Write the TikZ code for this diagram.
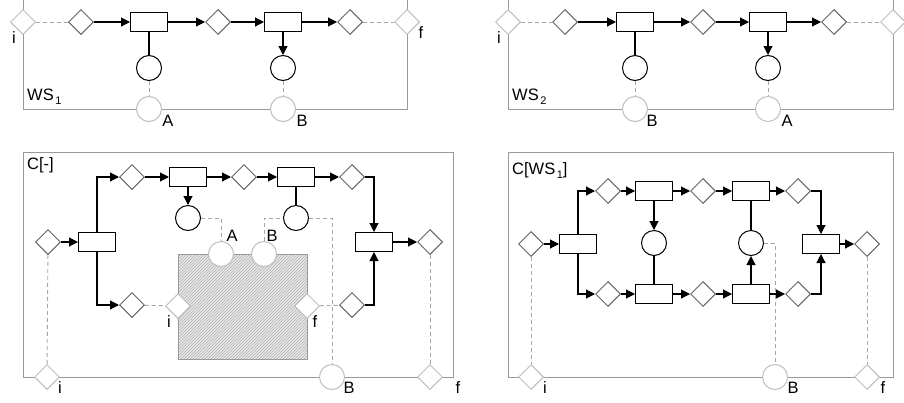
\documentclass[tikz,border=0pt]{standalone}
\usepackage{fontspec}
\setmainfont{Liberation Sans}
\usetikzlibrary{arrows.meta,shapes.geometric,patterns}
\tikzset{
	cnd/.style={diamond,draw=black!60,fill=white,line width=1pt,minimum size=25pt,inner sep=0pt},
	icnd/.style={cnd,draw=black!25},
	tr/.style={rectangle,draw,fill=white,line width=1pt,minimum width=37pt,minimum height=19pt,inner sep=0pt},
	msg/.style={circle,draw,fill=white,line width=1pt,minimum size=25pt,inner sep=0pt},
	imsg/.style={msg,draw=black!25},
	arr/.style={-{Triangle[length=9pt,width=9pt]},line width=1.1pt},
	lnk/.style={line width=1.1pt},
	dsh/.style={draw=black!35,dash pattern=on 4pt off 3pt,line width=0.9pt},
	frm/.style={draw=black!40,line width=1pt},
	lbl/.style={inner sep=0pt,font=\fontsize{16.5}{18}\selectfont},
}
\newcommand{\sub}[1]{\kern1.5pt\raisebox{-4pt}{\fontsize{11}{11}\selectfont #1}}
\begin{document}
\begin{tikzpicture}[x=1pt,y=-1pt]
	\useasboundingbox (0,0) rectangle (904,402);
	\clip (0,0) rectangle (904,402);
	% frames
	\draw[frm] (23,-5) rectangle (407,109);
	\draw[frm] (508,-5) rectangle (893,109);
	\draw[frm] (23,152) rectangle (453,377);
	\draw[frm] (508,152) rectangle (893,377);
	% hatched hole of the context
	\fill[black!9] (178,254) rectangle (307,359);
	\draw[frm,pattern=north east lines,pattern color=black!30] (178,254) rectangle (307,359);
	
	% WS1
	\node[lbl,anchor=base west] (ws1) at (27,100) {WS\sub{1}};
	\node[icnd] (i1) at (23,22) {};
	\node[cnd] (p11) at (81,22) {};
	\node[tr] (t11) at (149,22) {};
	\node[cnd] (p12) at (218,22) {};
	\node[tr] (t12) at (283,22) {};
	\node[cnd] (p13) at (350,22) {};
	\node[icnd] (f1) at (407,22) {};
	\node[msg] (m11) at (149,68) {};
	\node[msg] (m12) at (283,68) {};
	\node[imsg] (a1) at (149,109) {};
	\node[imsg] (b1) at (283,109) {};
	\node[lbl] (li1) at (14,38) {i};
	\node[lbl] (lf1) at (421,33) {f};
	\node[lbl] (la1) at (168,121) {A};
	\node[lbl] (lb1) at (302,121) {B};
	
	% WS2
	\node[lbl,anchor=base west] (ws2) at (512,100) {WS\sub{2}};
	\node[icnd] (i2) at (508,22) {};
	\node[cnd] (p21) at (565,22) {};
	\node[tr] (t21) at (635,22) {};
	\node[cnd] (p22) at (703,22) {};
	\node[tr] (t22) at (768,22) {};
	\node[cnd] (p23) at (834,22) {};
	\node[icnd] (f2) at (893,22) {};
	\node[msg] (m21) at (635,68) {};
	\node[msg] (m22) at (768,68) {};
	\node[imsg] (b2) at (635,109) {};
	\node[imsg] (a2) at (768,109) {};
	\node[lbl] (li2) at (499,38) {i};
	\node[lbl] (lb2) at (652,121) {B};
	\node[lbl] (la2) at (787,121) {A};
	
	% C[-]
	\node[lbl,anchor=base west] (c0) at (27,169) {C[-]};
	\node[cnd] (p0) at (48,242) {};
	\node[tr] (t0) at (97,242) {};
	\node[cnd] (pu1) at (132,177) {};
	\node[tr] (tu1) at (188,177) {};
	\node[cnd] (pu2) at (244,177) {};
	\node[tr] (tu2) at (296,177) {};
	\node[cnd] (pu3) at (352,177) {};
	\node[cnd] (pl1) at (132,305) {};
	\node[cnd] (pl2) at (352,305) {};
	\node[tr] (tj) at (374,242) {};
	\node[cnd] (pf) at (430,242) {};
	\node[msg] (mu1) at (188,218) {};
	\node[msg] (mu2) at (296,218) {};
	\node[imsg] (ah) at (221,254) {};
	\node[imsg] (bh) at (264,254) {};
	\node[icnd] (ih) at (178,306) {};
	\node[icnd] (fh) at (307,306) {};
	\node[icnd] (io) at (47,377) {};
	\node[imsg] (bo) at (332,377) {};
	\node[icnd] (fo) at (430,377) {};
	\node[lbl] (lah) at (232,236) {A};
	\node[lbl] (lbh) at (272,236) {B};
	\node[lbl] (lih) at (169,322) {i};
	\node[lbl] (lfh) at (315,322) {f};
	\node[lbl] (lio) at (60,388) {i};
	\node[lbl] (lbo) at (349,388) {B};
	\node[lbl] (lfo) at (458,388) {f};
	
	% C[WS1]
	\node[lbl,anchor=base west] (c1) at (512,174) {C[WS\sub{1}]};
	\node[cnd] (q0) at (531,244) {};
	\node[tr] (s0) at (578,244) {};
	\foreach \n/\x in {1/608,2/703,3/798}{
		\node[cnd] (qu\n) at (\x,191) {};
		\node[cnd] (ql\n) at (\x,294) {};
	}
	\foreach \n/\x in {1/654,2/751}{
		\node[tr] (su\n) at (\x,191) {};
		\node[tr] (sl\n) at (\x,294) {};
		\node[msg] (n\n) at (\x,243) {};
	}
	\node[tr] (sj) at (821,244) {};
	\node[cnd] (qf) at (867,244) {};
	\node[icnd] (io2) at (531,377) {};
	\node[imsg] (bo2) at (775,377) {};
	\node[icnd] (fo2) at (867,377) {};
	\node[lbl] (lio2) at (545,388) {i};
	\node[lbl] (lbo2) at (793,388) {B};
	\node[lbl] (lfo2) at (883,388) {f};
	
	% flow arcs
	\foreach \a/\b in {p11/t11,t11/p12,p12/t12,t12/p13,t12/m12,
		p21/t21,t21/p22,p22/t22,t22/p23,t22/m22,
		p0/t0,pu1/tu1,tu1/pu2,pu2/tu2,tu2/pu3,tu1/mu1,tj/pf,
		q0/s0,qu1/su1,su1/qu2,qu2/su2,su2/qu3,ql1/sl1,sl1/ql2,ql2/sl2,sl2/ql3,
		su1/n1,sl2/n2,sj/qf}
		\draw[arr] (\a) -- (\b);
	\foreach \a/\b in {t11/m11,t21/m21,tu2/mu2,n1/sl1,su2/n2}
		\draw[lnk] (\a) -- (\b);
	\draw[arr] (t0) |- (pu1);
	\draw[arr] (t0) |- (pl1);
	\draw[arr] (pu3) -| (tj);
	\draw[arr] (pl2) -| (tj);
	\draw[arr] (s0) |- (qu1);
	\draw[arr] (s0) |- (ql1);
	\draw[arr] (qu3) -| (sj);
	\draw[arr] (ql3) -| (sj);
	
	% interface links
	\foreach \a/\b in {i1/p11,p13/f1,m11/a1,m12/b1,
		i2/p21,p23/f2,m21/b2,m22/a2,
		pl1/ih,fh/pl2,p0/io,pf/fo,q0/io2,qf/fo2}
		\draw[dsh] (\a) -- (\b);
	\draw[dsh] (mu1) -| (ah);
	\draw[dsh] (bh) |- (mu2);
	\draw[dsh] (mu2) -| (bo);
	\draw[dsh] (n2) -| (bo2);
\end{tikzpicture}
\end{document}
